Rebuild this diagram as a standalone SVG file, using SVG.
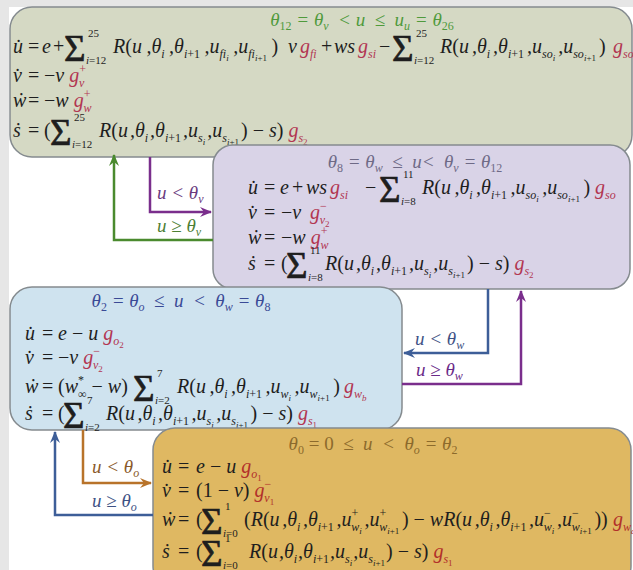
<svg xmlns="http://www.w3.org/2000/svg" width="633" height="570" viewBox="0 0 633 570">
<defs>
<style>
text{font-family:'Liberation Serif','Times New Roman',serif}
.eq{font-style:italic;font-size:20px;fill:#1e1e1e}
.u{font-style:normal}
.S{font-style:normal;font-size:37px;stroke:#1e1e1e;stroke-width:0.7}
.l{font-size:11px;stroke:none}
.s{font-size:12px}
.ss{font-size:9px}
.g{fill:#b23652}
.go{fill:#b2302a}
.tt{font-style:italic;font-size:19px}
.box{stroke:#858b8f;stroke-width:1.5}
.lab{font-style:italic;font-size:19px}
.cn{fill:none;stroke-width:2.5}
</style>
<marker id="aP" markerUnits="userSpaceOnUse" markerWidth="12" markerHeight="12" viewBox="0 0 12 12" refX="11" refY="6" orient="auto"><path d="M0,1 L12,6 L0,11 L4,6 z" fill="#7a2e8c"/></marker>
<marker id="aG" markerUnits="userSpaceOnUse" markerWidth="12" markerHeight="12" viewBox="0 0 12 12" refX="11" refY="6" orient="auto"><path d="M0,1 L12,6 L0,11 L4,6 z" fill="#4a8a2e"/></marker>
<marker id="aB" markerUnits="userSpaceOnUse" markerWidth="12" markerHeight="12" viewBox="0 0 12 12" refX="11" refY="6" orient="auto"><path d="M0,1 L12,6 L0,11 L4,6 z" fill="#3d5e98"/></marker>
<marker id="aO" markerUnits="userSpaceOnUse" markerWidth="12" markerHeight="12" viewBox="0 0 12 12" refX="11" refY="6" orient="auto"><path d="M0,1 L12,6 L0,11 L4,6 z" fill="#b8732a"/></marker>
</defs>
<rect x="0" y="0" width="633" height="570" fill="#e6e6e6"/>
<rect x="9" y="7" width="624" height="563" fill="#ffffff"/>

<g id="state-green">
<rect class="box" x="10" y="7" width="622" height="150" rx="22" fill="#d5d9c4"/>
<text class="tt" x="362" y="26" text-anchor="middle" fill="#4f9a3c">θ<tspan class="s u" dy="4">12</tspan><tspan dy="-4"> = θ</tspan><tspan class="s" dy="4">v</tspan><tspan dy="-4">&#160;&#160;&lt; u&#160;&#160;≤&#160;&#160;u</tspan><tspan class="s" dy="4">u</tspan><tspan dy="-4"> = θ</tspan><tspan class="s u" dy="4">26</tspan></text>
<text class="eq" y="53"><tspan x="13">u̇</tspan><tspan x="28" class="u">=</tspan><tspan x="42">e</tspan><tspan class="u" x="53">+</tspan><tspan x="64" y="61" class="S">Σ</tspan><tspan x="88" y="37" class="l u">25</tspan><tspan x="86" y="64" class="l">i</tspan><tspan class="l u">=12</tspan><tspan x="113" y="53">R</tspan><tspan class="u">(</tspan><tspan>u</tspan><tspan dx="4.5">,θ</tspan><tspan class="s" y="58">i</tspan><tspan y="53" dx="4.5">,θ</tspan><tspan class="s" y="58">i</tspan><tspan class="s u">+1</tspan><tspan y="53" dx="4.5">,u</tspan><tspan class="s" y="58">fi</tspan><tspan class="ss" y="61">i</tspan><tspan y="53" dx="4.5">,u</tspan><tspan class="s" y="58">fi</tspan><tspan class="ss" y="61">i</tspan><tspan class="ss u">+1</tspan><tspan y="53" class="u" dx="4.5">)</tspan><tspan x="288">v</tspan><tspan class="g" x="300">g</tspan><tspan class="s g" y="58">fi</tspan><tspan y="53" class="u" x="321">+</tspan><tspan x="334">ws</tspan><tspan class="g" x="358">g</tspan><tspan class="s g" y="58">si</tspan><tspan y="53" class="u" x="379">−</tspan><tspan x="392" y="61" class="S">Σ</tspan><tspan x="416" y="37" class="l u">25</tspan><tspan x="414" y="64" class="l">i</tspan><tspan class="l u">=12</tspan><tspan x="440" y="53">R</tspan><tspan class="u">(</tspan><tspan>u</tspan><tspan dx="3">,θ</tspan><tspan class="s" y="58">i</tspan><tspan y="53" dx="3">,θ</tspan><tspan class="s" y="58">i</tspan><tspan class="s u">+1</tspan><tspan y="53" dx="3">,u</tspan><tspan class="s" y="58">so</tspan><tspan class="ss" y="61">i</tspan><tspan y="53" dx="3">,u</tspan><tspan class="s" y="58">so</tspan><tspan class="ss" y="61">i</tspan><tspan class="ss u">+1</tspan><tspan y="53" class="u" dx="3">)</tspan><tspan class="g" x="613">g</tspan><tspan class="s g" y="58">so</tspan></text>
<text class="eq" y="82"><tspan x="13">v̇</tspan><tspan x="28" class="u">=</tspan><tspan x="44" class="u">−</tspan><tspan>v </tspan><tspan class="g">g</tspan><tspan class="s g u" y="73">+</tspan><tspan class="s g" dx="-7" y="87">v</tspan></text>
<text class="eq" y="107"><tspan x="13">ẇ</tspan><tspan x="28" class="u">=</tspan><tspan x="44" class="u">−</tspan><tspan>w </tspan><tspan class="g">g</tspan><tspan class="s g u" y="98">+</tspan><tspan class="s g" dx="-7" y="112">w</tspan></text>
<text class="eq" y="137"><tspan x="13">ṡ</tspan><tspan x="28" class="u">=</tspan><tspan x="44" class="u">(</tspan><tspan x="50" y="145" class="S">Σ</tspan><tspan x="74" y="121" class="l u">25</tspan><tspan x="72" y="148" class="l">i</tspan><tspan class="l u">=12</tspan><tspan x="99" y="137">R</tspan><tspan class="u">(</tspan><tspan>u</tspan><tspan dx="2">,θ</tspan><tspan class="s" y="142">i</tspan><tspan y="137" dx="2">,θ</tspan><tspan class="s" y="142">i</tspan><tspan class="s u">+1</tspan><tspan y="137" dx="2">,u</tspan><tspan class="s" y="142">s</tspan><tspan class="ss" y="145">i</tspan><tspan y="137" dx="2">,u</tspan><tspan class="s" y="142">s</tspan><tspan class="ss" y="145">i</tspan><tspan class="ss u">+1</tspan><tspan y="137" class="u" dx="2">) − </tspan><tspan>s</tspan><tspan class="u">) </tspan><tspan class="g">g</tspan><tspan class="s g" y="142">s</tspan><tspan class="ss g u" y="145">2</tspan></text>
</g>

<g id="state-purple">
<rect class="box" x="213" y="145" width="417" height="144" rx="20" fill="#d9d3e7"/>
<text class="tt" x="415" y="168" text-anchor="middle" fill="#6e6a86">θ<tspan class="s u" dy="4">8</tspan><tspan dy="-4"> = θ</tspan><tspan class="s" dy="4">w</tspan><tspan dy="-4">&#160;&#160;≤&#160;&#160;u&lt;&#160;&#160;θ</tspan><tspan class="s" dy="4">v</tspan><tspan dy="-4"> = θ</tspan><tspan class="s u" dy="4">12</tspan></text>
<text class="eq" y="194"><tspan x="248">u̇</tspan><tspan x="264" class="u">=</tspan><tspan x="280">e</tspan><tspan class="u" x="292">+</tspan><tspan x="306">ws</tspan><tspan class="g" x="330">g</tspan><tspan class="s g" y="199">si</tspan><tspan y="194" class="u" x="365">−</tspan><tspan x="379" y="202" class="S">Σ</tspan><tspan x="403" y="178" class="l u">11</tspan><tspan x="401" y="205" class="l">i</tspan><tspan class="l u">=8</tspan><tspan x="422" y="194">R</tspan><tspan class="u">(</tspan><tspan>u</tspan><tspan dx="3.5">,θ</tspan><tspan class="s" y="199">i</tspan><tspan y="194" dx="3.5">,θ</tspan><tspan class="s" y="199">i</tspan><tspan class="s u">+1</tspan><tspan y="194" dx="3.5">,u</tspan><tspan class="s" y="199">so</tspan><tspan class="ss" y="202">i</tspan><tspan y="194" dx="3.5">,u</tspan><tspan class="s" y="199">so</tspan><tspan class="ss" y="202">i</tspan><tspan class="ss u">+1</tspan><tspan y="194" class="u" dx="3.5">)</tspan><tspan class="g" x="595">g</tspan><tspan class="s g" y="199">so</tspan></text>
<text class="eq" y="219"><tspan x="248">v̇</tspan><tspan x="264" class="u">=</tspan><tspan x="281" class="u">−</tspan><tspan>v</tspan><tspan class="g" x="310">g</tspan><tspan class="s g u" y="210">−</tspan><tspan class="s g" dx="-7" y="224">v</tspan><tspan class="ss g u" y="227">2</tspan></text>
<text class="eq" y="244"><tspan x="248">ẇ</tspan><tspan x="264" class="u">=</tspan><tspan x="281" class="u">−</tspan><tspan>w </tspan><tspan class="g">g</tspan><tspan class="s g u" y="235">+</tspan><tspan class="s g" dx="-7" y="249">w</tspan></text>
<text class="eq" y="270"><tspan x="248">ṡ</tspan><tspan x="264" class="u">=</tspan><tspan x="281" class="u">(</tspan><tspan x="286" y="278" class="S">Σ</tspan><tspan x="310" y="254" class="l u">11</tspan><tspan x="308" y="281" class="l">i</tspan><tspan class="l u">=8</tspan><tspan x="325" y="270">R</tspan><tspan class="u">(</tspan><tspan>u</tspan><tspan dx="2">,θ</tspan><tspan class="s" y="275">i</tspan><tspan y="270" dx="2">,θ</tspan><tspan class="s" y="275">i</tspan><tspan class="s u">+1</tspan><tspan y="270" dx="2">,u</tspan><tspan class="s" y="275">s</tspan><tspan class="ss" y="278">i</tspan><tspan y="270" dx="2">,u</tspan><tspan class="s" y="275">s</tspan><tspan class="ss" y="278">i</tspan><tspan class="ss u">+1</tspan><tspan y="270" class="u" dx="2">) − </tspan><tspan>s</tspan><tspan class="u">) </tspan><tspan class="g">g</tspan><tspan class="s g" y="275">s</tspan><tspan class="ss g u" y="278">2</tspan></text>
</g>

<g id="state-blue">
<rect class="box" x="10" y="287" width="392" height="143" rx="22" fill="#cfe3ef"/>
<text class="tt" x="181" y="307" text-anchor="middle" fill="#3a4a96">θ<tspan class="s u" dy="4">2</tspan><tspan dy="-4"> = θ</tspan><tspan class="s" dy="4">o</tspan><tspan dy="-4">&#160;&#160;≤&#160;&#160;u&#160;&#160;&lt;&#160;&#160;θ</tspan><tspan class="s" dy="4">w</tspan><tspan dy="-4"> = θ</tspan><tspan class="s u" dy="4">8</tspan></text>
<text class="eq" y="340"><tspan x="25">u̇</tspan><tspan x="42" class="u">=</tspan><tspan x="58">e</tspan><tspan class="u"> − </tspan><tspan>u </tspan><tspan class="g">g</tspan><tspan class="s g" y="345">o</tspan><tspan class="ss g u" y="348">2</tspan></text>
<text class="eq" y="364"><tspan x="25">v̇</tspan><tspan x="42" class="u">=</tspan><tspan x="58" class="u">−</tspan><tspan>v </tspan><tspan class="g">g</tspan><tspan class="s g u" y="355">−</tspan><tspan class="s g" dx="-7" y="369">v</tspan><tspan class="ss g u" y="372">2</tspan></text>
<text class="eq" y="393"><tspan x="25">ẇ</tspan><tspan x="42" class="u">=</tspan><tspan x="58" class="u">(</tspan><tspan>w</tspan><tspan class="s u" y="384">*</tspan><tspan class="s u" dx="-6" y="398">∞</tspan><tspan y="393" class="u"> − </tspan><tspan>w</tspan><tspan class="u">)</tspan><tspan x="133" y="401" class="S">Σ</tspan><tspan x="157" y="377" class="l u">7</tspan><tspan x="155" y="404" class="l">i</tspan><tspan class="l u">=2</tspan><tspan x="177" y="393">R</tspan><tspan class="u">(</tspan><tspan>u</tspan><tspan dx="3.5">,θ</tspan><tspan class="s" y="398">i</tspan><tspan y="393" dx="3.5">,θ</tspan><tspan class="s" y="398">i</tspan><tspan class="s u">+1</tspan><tspan y="393" dx="3.5">,u</tspan><tspan class="s" y="398">w</tspan><tspan class="ss" y="401">i</tspan><tspan y="393" dx="3.5">,u</tspan><tspan class="s" y="398">w</tspan><tspan class="ss" y="401">i</tspan><tspan class="ss u">+1</tspan><tspan y="393" class="u" dx="3.5">)</tspan><tspan class="g" x="344">g</tspan><tspan class="s g" y="398">w</tspan><tspan class="ss g" y="401">b</tspan></text>
<text class="eq" y="420"><tspan x="25">ṡ</tspan><tspan x="42" class="u">=</tspan><tspan x="58" class="u">(</tspan><tspan x="63" y="428" class="S">Σ</tspan><tspan x="87" y="404" class="l u">7</tspan><tspan x="85" y="431" class="l">i</tspan><tspan class="l u">=2</tspan><tspan x="106" y="420">R</tspan><tspan class="u">(</tspan><tspan>u</tspan><tspan dx="2.5">,θ</tspan><tspan class="s" y="425">i</tspan><tspan y="420" dx="2.5">,θ</tspan><tspan class="s" y="425">i</tspan><tspan class="s u">+1</tspan><tspan y="420" dx="2.5">,u</tspan><tspan class="s" y="425">s</tspan><tspan class="ss" y="428">i</tspan><tspan y="420" dx="2.5">,u</tspan><tspan class="s" y="425">s</tspan><tspan class="ss" y="428">i</tspan><tspan class="ss u">+1</tspan><tspan y="420" class="u" dx="2.5">) − </tspan><tspan>s</tspan><tspan class="u">) </tspan><tspan class="g">g</tspan><tspan class="s g" y="425">s</tspan><tspan class="ss g u" y="428">1</tspan></text>
</g>

<g id="state-orange">
<rect class="box" x="153" y="428" width="478" height="160" rx="22" fill="#dfb862"/>
<text class="tt" x="373" y="450" text-anchor="middle" fill="#8c6a2c">θ<tspan class="s u" dy="4">0</tspan><tspan dy="-4" class="u"> = 0&#160;&#160;</tspan><tspan>≤&#160;&#160;u&#160;&#160;&lt;&#160;&#160;θ</tspan><tspan class="s" dy="4">o</tspan><tspan dy="-4"> = θ</tspan><tspan class="s u" dy="4">2</tspan></text>
<text class="eq" y="473"><tspan x="162">u̇</tspan><tspan x="178" class="u">=</tspan><tspan x="196">e</tspan><tspan class="u"> − </tspan><tspan>u </tspan><tspan class="go">g</tspan><tspan class="s go" y="478">o</tspan><tspan class="ss go u" y="481">1</tspan></text>
<text class="eq" y="497"><tspan x="162">v̇</tspan><tspan x="178" class="u">=</tspan><tspan x="196" class="u">(1 − </tspan><tspan>v</tspan><tspan class="u">) </tspan><tspan class="go">g</tspan><tspan class="s go u" y="488">−</tspan><tspan class="s go" dx="-7" y="502">v</tspan><tspan class="ss go u" y="505">1</tspan></text>
<text class="eq" y="526"><tspan x="162">ẇ</tspan><tspan x="178" class="u">=</tspan><tspan x="196" class="u">(</tspan><tspan x="201" y="534" class="S">Σ</tspan><tspan x="225" y="510" class="l u">1</tspan><tspan x="223" y="537" class="l">i</tspan><tspan class="l u">=0</tspan><tspan x="244" y="526" class="u">(</tspan><tspan>R</tspan><tspan class="u">(</tspan><tspan>u</tspan><tspan dx="2.6">,θ</tspan><tspan class="s" y="531">i</tspan><tspan y="526" dx="2.6">,θ</tspan><tspan class="s" y="531">i</tspan><tspan class="s u">+1</tspan><tspan y="526" dx="2.6">,u</tspan><tspan class="s u" y="517">+</tspan><tspan class="s" dx="-7" y="531">w</tspan><tspan class="ss" y="534">i</tspan><tspan y="526" dx="2.6">,u</tspan><tspan class="s u" y="517">+</tspan><tspan class="s" dx="-7" y="531">w</tspan><tspan class="ss" y="534">i</tspan><tspan class="ss u">+1</tspan><tspan y="526" class="u" dx="2.6">) − </tspan><tspan>wR</tspan><tspan class="u">(</tspan><tspan>u</tspan><tspan dx="2.6">,θ</tspan><tspan class="s" y="531">i</tspan><tspan y="526" dx="2.6">,θ</tspan><tspan class="s" y="531">i</tspan><tspan class="s u">+1</tspan><tspan y="526" dx="2.6">,u</tspan><tspan class="s u" y="517">−</tspan><tspan class="s" dx="-7" y="531">w</tspan><tspan class="ss" y="534">i</tspan><tspan y="526" dx="2.6">,u</tspan><tspan class="s u" y="517">−</tspan><tspan class="s" dx="-7" y="531">w</tspan><tspan class="ss" y="534">i</tspan><tspan class="ss u">+1</tspan><tspan y="526" class="u" dx="2.6">))</tspan><tspan class="go" x="613">g</tspan><tspan class="s go" y="531">w</tspan><tspan class="ss go" y="534">a</tspan></text>
<text class="eq" y="558"><tspan x="162">ṡ</tspan><tspan x="178" class="u">=</tspan><tspan x="196" class="u">(</tspan><tspan x="201" y="566" class="S">Σ</tspan><tspan x="225" y="542" class="l u">1</tspan><tspan x="223" y="569" class="l">i</tspan><tspan class="l u">=0</tspan><tspan x="249" y="558">R</tspan><tspan class="u">(</tspan><tspan>u</tspan><tspan dx="1">,θ</tspan><tspan class="s" y="563">i</tspan><tspan y="558" dx="1">,θ</tspan><tspan class="s" y="563">i</tspan><tspan class="s u">+1</tspan><tspan y="558" dx="1">,u</tspan><tspan class="s" y="563">s</tspan><tspan class="ss" y="566">i</tspan><tspan y="558" dx="1">,u</tspan><tspan class="s" y="563">s</tspan><tspan class="ss" y="566">i</tspan><tspan class="ss u">+1</tspan><tspan y="558" class="u" dx="1">) − </tspan><tspan>s</tspan><tspan class="u">) </tspan><tspan class="go">g</tspan><tspan class="s go" y="563">s</tspan><tspan class="ss go u" y="566">1</tspan></text>
</g>

<g id="connectors">
<path class="cn" d="M150,157 V212 H211" stroke="#7a2e8c" marker-end="url(#aP)"/>
<path class="cn" d="M213,240 H114 V155" stroke="#4a8a2e" marker-end="url(#aG)"/>
<path class="cn" d="M488,289 V353 H404" stroke="#3d5e98" marker-end="url(#aB)"/>
<path class="cn" d="M402,384 H521 V291" stroke="#7a2e8c" marker-end="url(#aP)"/>
<path class="cn" d="M83,430 V483 H151" stroke="#b8732a" marker-end="url(#aO)"/>
<path class="cn" d="M153,515 H55 V432" stroke="#3d5e98" marker-end="url(#aB)"/>
<text class="lab" x="157" y="199" fill="#6a3a7e">u &lt; θ<tspan class="s" dy="4">v</tspan></text>
<text class="lab" x="157" y="232" fill="#4d8035">u ≥ θ<tspan class="s" dy="4">v</tspan></text>
<text class="lab" x="415" y="345" fill="#3e5285">u &lt; θ<tspan class="s" dy="4">w</tspan></text>
<text class="lab" x="416" y="376" fill="#6a2a88">u ≥ θ<tspan class="s" dy="4">w</tspan></text>
<text class="lab" x="92" y="473" fill="#8a5a2a">u &lt; θ<tspan class="s" dy="4">o</tspan></text>
<text class="lab" x="92" y="507" fill="#3e5285">u ≥ θ<tspan class="s" dy="4">o</tspan></text>
</g>
</svg>
